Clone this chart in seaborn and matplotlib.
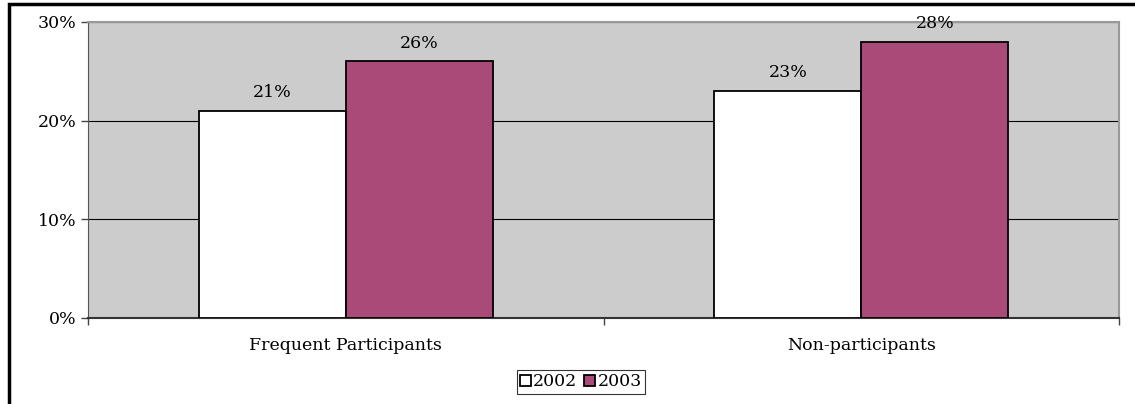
import pandas as pd
import matplotlib.pyplot as plt
import seaborn as sns
from matplotlib.patches import Patch, Rectangle

groups = ['Frequent Participants', 'Non-participants']
years = ['2002', '2003']
values_2002 = [21, 23]
values_2003 = [26, 28]
colors = ['#FFFFFF', '#A94A78']

df = pd.DataFrame({
    'group': groups * 2,
    'year': [years[0]] * 2 + [years[1]] * 2,
    'value': values_2002 + values_2003,
})

sns.set_style('white')
plt.rcParams['font.family'] = ['DejaVu Serif']
plt.rcParams['text.color'] = 'black'
plt.rcParams['xtick.color'] = 'black'
plt.rcParams['ytick.color'] = 'black'
fs = 12.5

fig = plt.figure(figsize=(11.35, 4.04), dpi=100)
ax = fig.add_axes([88 / 1135, 1 - 318 / 404, (1119 - 88) / 1135, (318 - 22) / 404])
ax.set_facecolor('#CCCCCC')

sns.barplot(data=df, x='group', y='value', hue='year', palette=colors, saturation=1,
            edgecolor='black', linewidth=1.3, width=0.57, ax=ax, legend=False, zorder=3)

for c in ax.containers:
    ax.bar_label(c, labels=[f'{v:.0f}%' for v in c.datavalues], padding=7,
                 fontsize=fs, color='black')

ax.set_ylim(0, 30)
ax.set_yticks([0, 10, 20, 30], labels=['0%', '10%', '20%', '30%'], fontsize=fs)
ax.yaxis.grid(True, color='black', linewidth=0.8, zorder=1)
ax.set_axisbelow(True)

ax.set_xlim(-0.5, 1.5)
ax.set_xticks([-0.5, 0.5, 1.5], labels=['', '', ''])
ax.set_xticks([0, 1], labels=groups, minor=True, fontsize=fs)
ax.tick_params(axis='x', which='minor', length=0, pad=14, labelcolor='black')
ax.tick_params(axis='both', which='major', direction='out', length=5, width=1,
               color='#444444', labelcolor='black', left=True, bottom=True)
ax.set_xlabel('')
ax.set_ylabel('')

for side in ['top', 'right']:
    ax.spines[side].set_color('#999999')
    ax.spines[side].set_linewidth(1.5)
ax.spines['left'].set_color('#555555')
ax.spines['bottom'].set_color('#333333')
ax.spines['bottom'].set_linewidth(1.5)

handles = [Patch(facecolor=colors[i], edgecolor='black', linewidth=1.3, label=years[i])
           for i in range(2)]
leg = fig.legend(handles=handles, loc='center', bbox_to_anchor=(581 / 1135, 1 - 382 / 404),
                 ncol=2, fontsize=fs, frameon=True, fancybox=False, handlelength=0.6,
                 handleheight=0.6, handletextpad=0.15, columnspacing=0.4,
                 borderpad=0.2, borderaxespad=0, labelcolor='black')
leg.get_frame().set_edgecolor('black')
leg.get_frame().set_linewidth(0.8)

fig.patches.append(Rectangle((8.5 / 1135, -0.1), 1.2, 1 - 3.5 / 404 + 0.1,
                             transform=fig.transFigure, fill=False,
                             edgecolor='black', linewidth=2.5))

fig.savefig('out.png', dpi=100)
